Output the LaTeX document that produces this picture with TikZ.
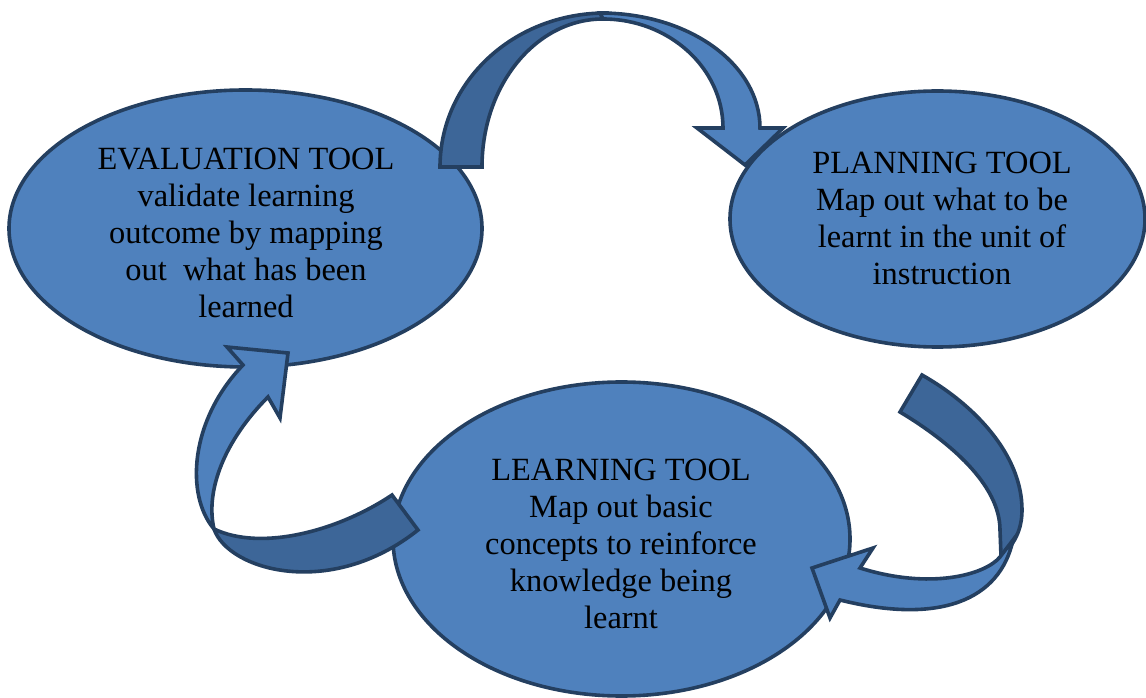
\documentclass[tikz,border=0pt]{standalone}
\usepackage{fontspec}
\setmainfont{Liberation Serif}
\usetikzlibrary{shapes.geometric}
\definecolor{toolfill}{HTML}{4F81BD}
\definecolor{tooledge}{HTML}{243F60}
\definecolor{bandback}{HTML}{3D6698}

\tikzset{
  tool/.style={ellipse, draw=tooledge, fill=toolfill, line width=2.7pt, inner sep=0pt},
  tooltext/.style={align=center, font=\fontsize{24.3}{27.75}\selectfont, text=black, inner sep=0pt},
  bandfront/.style={fill=toolfill, draw=tooledge, line width=2.7pt, line join=miter},
  bandrear/.style={fill=bandback, draw=tooledge, line width=2.7pt, line join=miter},
}

\begin{document}
\begin{tikzpicture}[x=0.75pt, y=-0.75pt]
  \useasboundingbox (0,0) rectangle (1146,698);

  % the three tool ellipses
  \node[tool, minimum width=354.75pt, minimum height=207.75pt] (eval) at (245.5,228.5) {};
  \node[tool, minimum width=311.25pt, minimum height=192pt] (plan) at (937.5,219) {};
  \node[tool, minimum width=342.75pt, minimum height=235.5pt] (learn) at (621.5,539) {};

  \node[tooltext] (evaltext) at (246,233)
    {EVALUATION TOOL\\validate learning\\outcome by mapping\\out\ \ what has been\\learned};
  \node[tooltext] (plantext) at (942,218)
    {PLANNING TOOL\\Map out what to be\\learnt in the unit of\\instruction};
  \node[tooltext] (learntext) at (621,544)
    {LEARNING TOOL\\Map out basic\\concepts to reinforce\\knowledge being\\learnt};

  % curved arrow: evaluation -> planning (over the top)
  \draw[bandrear] (440,167) .. controls (440,82) and (513,13) .. (606,13)
    -- (603,19) .. controls (536,19) and (482,85) .. (482,167) -- cycle;
  \draw[bandfront] (600,13) .. controls (690,13) and (760,65) .. (760,128)
    -- (783,128) -- (745,165) -- (697,128) -- (723,128)
    .. controls (723,68) and (669,19) .. (603,19) -- cycle;

  % curved arrow: planning -> learning (right side)
  \draw[bandrear] (922,375) .. controls (975,405) and (1022,455) .. (1022,510)
    .. controls (1022,530) and (1014,545) .. (1001,556)
    -- (1000,530) .. controls (1000,485) and (950,442) .. (900,412) -- cycle;
  \draw[bandfront] (1000,557) .. controls (985,575) and (930,590) .. (860,568)
    -- (873,548) -- (812,568) -- (830,618) -- (840,600)
    .. controls (940,625) and (1000,600) .. (1013,540) -- cycle;

  % curved arrow: learning -> evaluation (left side)
  \draw[bandrear] (392,495) .. controls (340,530) and (262,552) .. (214,529)
    .. controls (228,570) and (330,600) .. (418,530) -- cycle;
  \draw[bandfront] (214,529) .. controls (185,495) and (190,420) .. (243,365)
    -- (227,347) -- (288,353) -- (280,418) -- (268,397)
    .. controls (225,440) and (205,490) .. (214,529) -- cycle;
\end{tikzpicture}
\end{document}
